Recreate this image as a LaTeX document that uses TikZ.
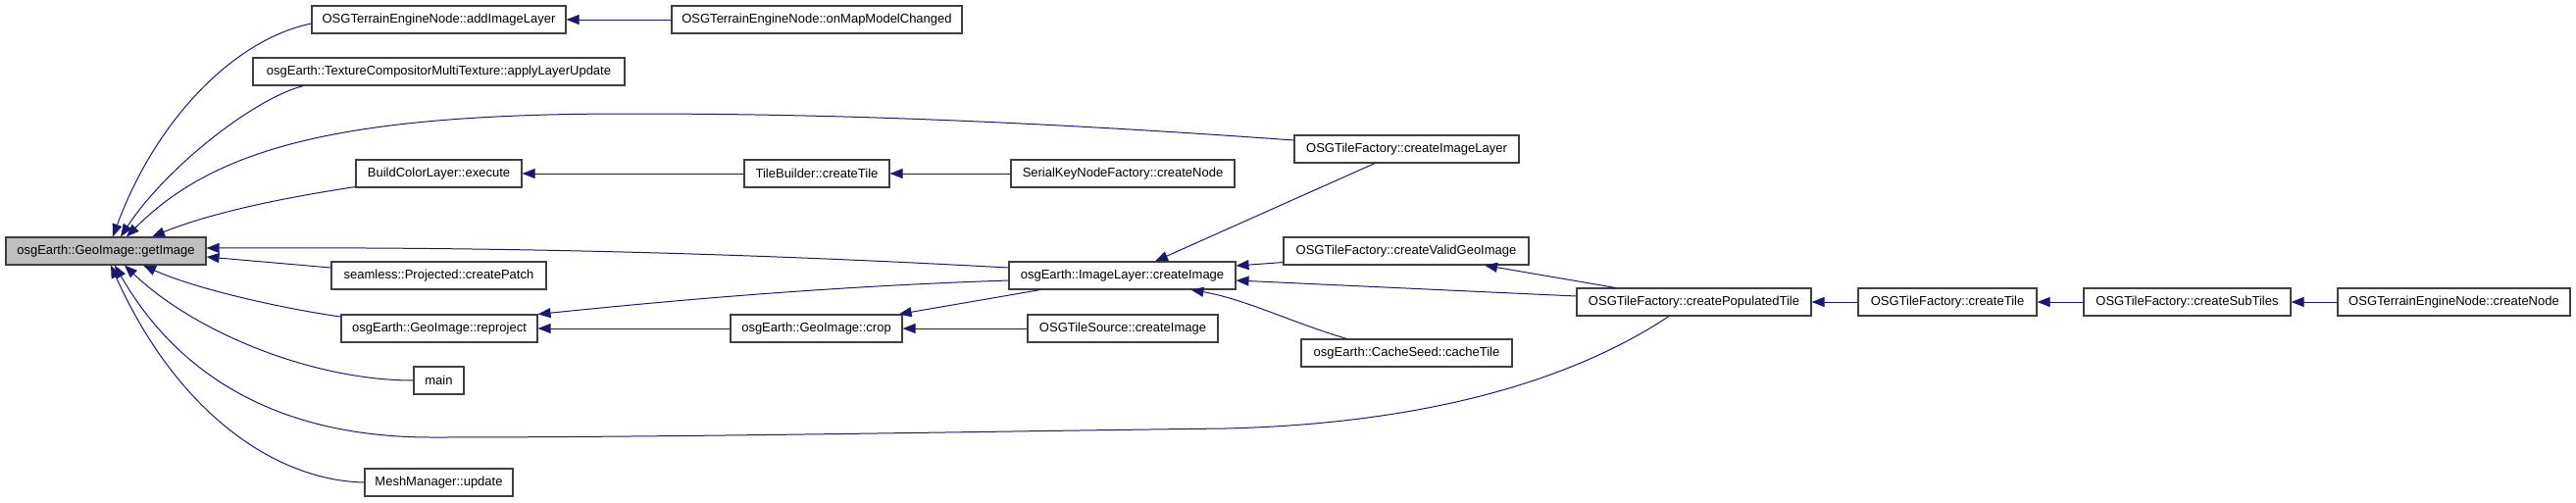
\documentclass[tikz,border=0pt]{standalone}
\usepackage{fontspec}
\setmainfont{Liberation Sans}
\usetikzlibrary{arrows.meta}
\definecolor{edgeblue}{HTML}{191970}
\definecolor{boxgray}{HTML}{404040}
\definecolor{hlfill}{HTML}{BFBFBF}
\tikzset{
  fn/.style={draw=boxgray, line width=1.1pt, fill=white, minimum height=28pt,
    inner sep=0pt, font={\fontsize{13}{15}\selectfont}, text=black},
  hl/.style={fn, fill=hlfill},
  edge/.style={draw=edgeblue, line width=1pt, -{Triangle[length=13pt,width=10pt]}},
}
\begin{document}
\begin{tikzpicture}[x=1pt,y=-1pt]
\useasboundingbox (0,0) rectangle (2627,512);
% nodes
\node[hl, minimum width=204pt] (gi)  at (108,256)    {osgEarth::GeoImage::getImage};
\node[fn, minimum width=259pt] (ail) at (447.5,20)   {OSGTerrainEngineNode::addImageLayer};
\node[fn, minimum width=296pt] (omc) at (833,20)     {OSGTerrainEngineNode::onMapModelChanged};
\node[fn, minimum width=379pt] (alu) at (447.5,73)   {osgEarth::TextureCompositorMultiTexture::applyLayerUpdate};
\node[fn, minimum width=229pt] (cil) at (1434.5,152) {OSGTileFactory::createImageLayer};
\node[fn, minimum width=169pt] (bcl) at (447.5,177)  {BuildColorLayer::execute};
\node[fn, minimum width=148pt] (tbc) at (833,177)    {TileBuilder::createTile};
\node[fn, minimum width=228pt] (skn) at (1145,177)   {SerialKeyNodeFactory::createNode};
\node[fn, minimum width=250pt] (cvg) at (1434,256)   {OSGTileFactory::createValidGeoImage};
\node[fn, minimum width=231pt] (ilc) at (1144.5,281) {osgEarth::ImageLayer::createImage};
\node[fn, minimum width=219pt] (scp) at (447.5,281)  {seamless::Projected::createPatch};
\node[fn, minimum width=239pt] (cpt) at (1727.5,308) {OSGTileFactory::createPopulatedTile};
\node[fn, minimum width=182pt] (otc) at (1986,308)   {OSGTileFactory::createTile};
\node[fn, minimum width=211pt] (cst) at (2230.5,308) {OSGTileFactory::createSubTiles};
\node[fn, minimum width=237pt] (cn)  at (2502.5,308) {OSGTerrainEngineNode::createNode};
\node[fn, minimum width=200pt] (rep) at (448,335)    {osgEarth::GeoImage::reproject};
\node[fn, minimum width=175pt] (crp) at (832.5,335)  {osgEarth::GeoImage::crop};
\node[fn, minimum width=194pt] (tsc) at (1145,335)   {OSGTileSource::createImage};
\node[fn, minimum width=215pt] (ct)  at (1434.5,360) {osgEarth::CacheSeed::cacheTile};
\node[fn, minimum width=51pt]  (mn)  at (447.5,388)  {main};
\node[fn, minimum width=151pt] (mm)  at (447.5,492)  {MeshManager::update};
% edges into getImage
\draw[edge] ([yshift=-4pt]ail.west) .. controls (240,40) and (160,120) .. ([xshift=7pt]gi.north);
\draw[edge] ([xshift=52pt]alu.south west) .. controls (260,100) and (170,170) .. ([xshift=15pt]gi.north);
\draw[edge] ([yshift=9pt]cil.west) .. controls (1000,120) and (800,116) .. (640,116)
            .. controls (350,116) and (220,150) .. ([xshift=21pt]gi.north);
\draw[edge] ([yshift=1pt]bcl.south west) .. controls (300,200) and (220,215) .. ([xshift=47pt]gi.north);
\draw[edge] ([yshift=8pt]ilc.west) .. controls (700,255) and (450,252) .. ([yshift=3pt]gi.east);
\draw[edge] ([yshift=8pt]scp.west) -- ([yshift=-6pt]gi.east);
\draw[edge] ([yshift=12pt]rep.west) .. controls (290,315) and (200,295) .. ([xshift=38pt]gi.south);
\draw[edge] (mn.west) .. controls (320,388) and (200,340) .. ([xshift=19pt]gi.south);
\draw[edge] ([xshift=-25.5pt]cpt.south) .. controls (1600,390) and (1450,432) .. (1250,437)
            .. controls (1000,440) and (700,446) .. (440,446)
            .. controls (280,446) and (180,380) .. ([xshift=9pt]gi.south);
\draw[edge] (mm.west) .. controls (280,490) and (180,420) .. ([xshift=5pt]gi.south);
% horizontal chains
\draw[edge] (omc.west) -- (ail.east);
\draw[edge] (tbc.west) -- (bcl.east);
\draw[edge] (skn.west) -- (tbc.east);
\draw[edge] (crp.west) -- (rep.east);
\draw[edge] (tsc.west) -- (crp.east);
\draw[edge] (otc.west) -- (cpt.east);
\draw[edge] (cst.west) -- (otc.east);
\draw[edge] (cn.west) -- (cst.east);
% other edges
\draw[edge] ([yshift=-5pt]ilc.west) .. controls (850,292) and (700,305) .. (rep.north east);
\draw[edge] ([xshift=-83.5pt]ilc.south) -- ([xshift=-4pt]crp.north east);
\draw[edge] ([xshift=-32.5pt]cil.south) -- ([xshift=33.5pt]ilc.north);
\draw[edge] ([yshift=3pt]cvg.south west) -- ([yshift=10pt]ilc.east);
\draw[edge] ([yshift=6pt]cpt.west) -- ([yshift=-5pt]ilc.east);
\draw[edge] ([xshift=-61pt]ct.north) .. controls (1320,330) and (1270,305) .. ([xshift=70pt]ilc.south);
\draw[edge] ([xshift=-80pt]cpt.north) -- ([xshift=80pt]cvg.south);
\end{tikzpicture}
\end{document}
